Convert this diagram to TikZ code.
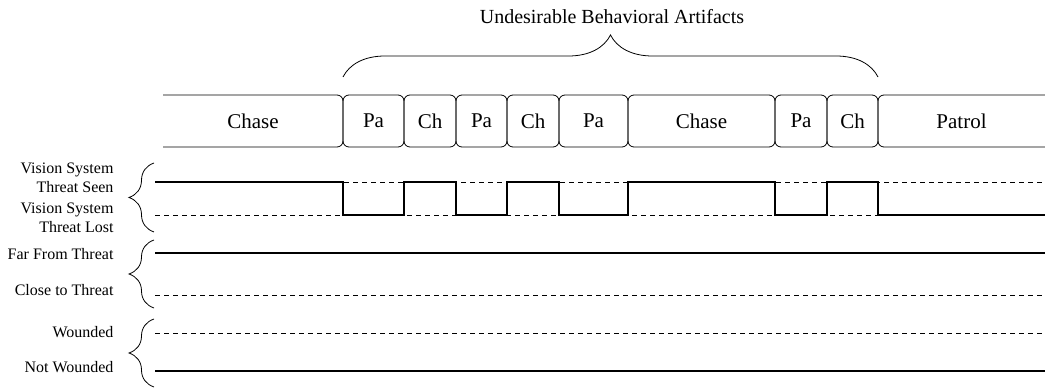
\documentclass[tikz,border=0pt]{standalone}
\usepackage{fontspec}
\setmainfont{Liberation Serif}
\usetikzlibrary{positioning,decorations.pathreplacing}

\begin{document}
\begin{tikzpicture}[x=1pt, y=1pt,
    state/.style={minimum height=52pt, inner sep=0pt, outer sep=0pt,
      font=\fontsize{21}{24}\selectfont},
    box/.style={state, draw, rounded corners=6pt, line width=0.8pt},
    lbl/.style={align=right, anchor=east, font=\fontsize{16}{19}\selectfont},
    signal/.style={line width=1.6pt},
    other/.style={line width=0.8pt, dash pattern=on 5pt off 4pt},
    grp/.style={decorate, decoration={brace, amplitude=25pt}, line width=0.8pt}]
  \useasboundingbox (0,0) rectangle (1045,388);

  % behaviour row
  \node[state, minimum width=180pt] (chase1) at (253,267) {Chase};
  \node[box, minimum width=61pt, right=0pt of chase1] (pa1) {Pa};
  \node[box, minimum width=52pt, right=0pt of pa1] (ch1) {Ch};
  \node[box, minimum width=51pt, right=0pt of ch1] (pa2) {Pa};
  \node[box, minimum width=52pt, right=0pt of pa2] (ch2) {Ch};
  \node[box, minimum width=69pt, right=0pt of ch2] (pa3) {Pa};
  \node[box, minimum width=147pt, right=0pt of pa3] (chase2) {Chase};
  \node[box, minimum width=52pt, right=0pt of chase2] (pa4) {Pa};
  \node[box, minimum width=51pt, right=0pt of pa4] (ch3) {Ch};
  \node[state, minimum width=167pt, right=0pt of ch3] (patrol) {Patrol};
  \draw[rounded corners=6pt, line width=0.8pt] (chase1.north west) -- (chase1.north east)
    -- (chase1.south east) -- (chase1.south west);
  \draw[rounded corners=6pt, line width=0.8pt] (patrol.north east) -- (patrol.north west)
    -- (patrol.south west) -- (patrol.south east);

  % artifacts brace
  \draw[grp, decoration={amplitude=42pt}] ([yshift=18pt]pa1.north west) -- ([yshift=18pt]ch3.north east);
  \node[font=\fontsize{20}{24}\selectfont] (artifacts) at (612,371) {Undesirable Behavioral Artifacts};

  % signal levels
  \coordinate (hi) at (155,206);
  \coordinate (lo) at (155,173);
  \coordinate (far) at (155,135);
  \coordinate (close) at (155,93);
  \coordinate (wnd) at (155,55);
  \coordinate (notw) at (155,17);

  \node[lbl] (seen) at (117,210.5) {Vision System\\Threat Seen};
  \node[lbl] (lost) at (117,170.5) {Vision System\\Threat Lost};
  \node[lbl] (farlbl) at (117,134) {Far From Threat};
  \node[lbl] (closelbl) at (117,98) {Close to Threat};
  \node[lbl] (wndlbl) at (117,56) {Wounded};
  \node[lbl] (notwlbl) at (117,21) {Not Wounded};

  \draw[grp] (154,156) -- (154,225);
  \draw[grp] (154,80) -- (154,148);
  \draw[grp] (154,1) -- (154,69);

  % vision system
  \draw[other] (hi) -- (hi -| patrol.east);
  \draw[other] (lo) -- (lo -| patrol.east);
  \draw[signal] (hi) -- (hi -| pa1.west) -- (lo -| pa1.west) -- (lo -| ch1.west)
    -- (hi -| ch1.west) -- (hi -| pa2.west) -- (lo -| pa2.west) -- (lo -| ch2.west)
    -- (hi -| ch2.west) -- (hi -| pa3.west) -- (lo -| pa3.west) -- (lo -| chase2.west)
    -- (hi -| chase2.west) -- (hi -| pa4.west) -- (lo -| pa4.west) -- (lo -| ch3.west)
    -- (hi -| ch3.west) -- (hi -| patrol.west) -- (lo -| patrol.west) -- (lo -| patrol.east);

  % distance and health
  \draw[signal] (far) -- (far -| patrol.east);
  \draw[other] (close) -- (close -| patrol.east);
  \draw[other] (wnd) -- (wnd -| patrol.east);
  \draw[signal] (notw) -- (notw -| patrol.east);
\end{tikzpicture}
\end{document}
